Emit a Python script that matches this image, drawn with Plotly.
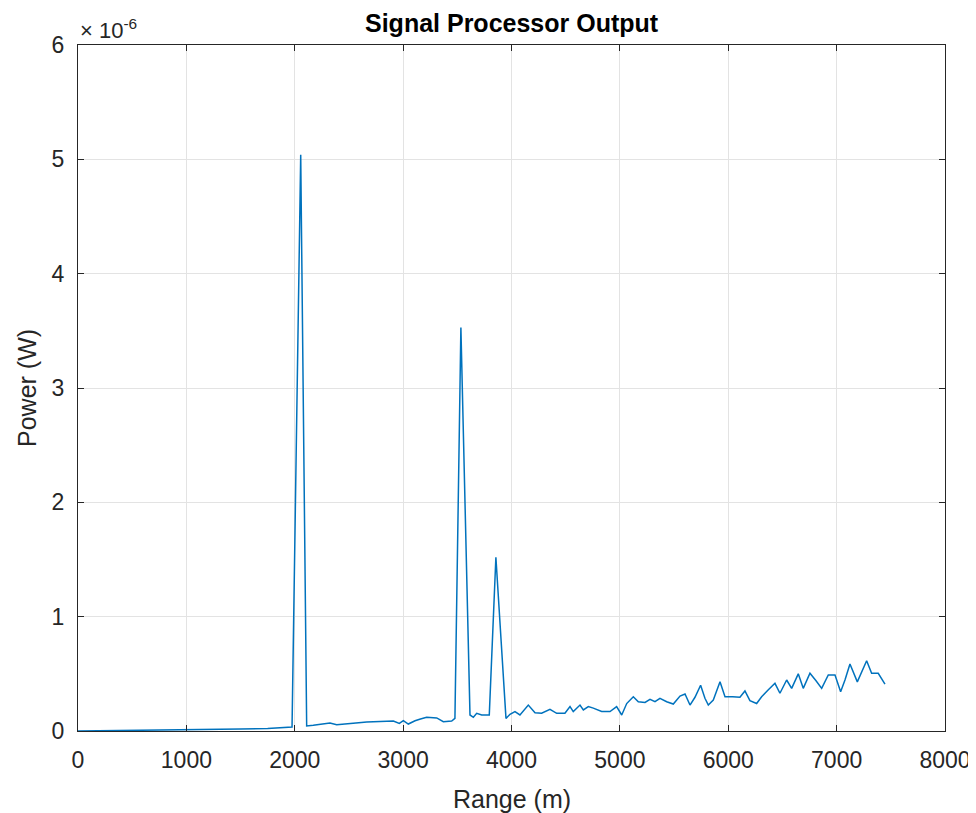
import numpy as np
import plotly.graph_objects as go

# Range samples (m)
range_m = [0, 250, 500, 750, 1000, 1250, 1500, 1750, 1900, 1975, 2055, 2110, 2171, 2250, 2325,
           2387, 2450, 2510, 2590, 2664, 2730, 2787, 2850, 2910, 2965, 3002, 3048, 3110, 3160,
           3217, 3310, 3371, 3448, 3478, 3533, 3617, 3648, 3679, 3725, 3795, 3856, 3949, 3986,
           4032, 4078, 4155, 4217, 4278, 4355, 4417, 4493, 4540, 4570, 4632, 4663, 4709, 4755,
           4832, 4909, 4970, 5017, 5063, 5124, 5170, 5232, 5278, 5324, 5370, 5432, 5493, 5555,
           5601, 5647, 5693, 5745, 5785, 5816, 5862, 5924, 5970, 6040, 6108, 6154, 6200, 6262,
           6308, 6370, 6431, 6477, 6539, 6585, 6646, 6692, 6754, 6810, 6862, 6923, 6985, 7037,
           7077, 7123, 7191, 7277, 7323, 7384, 7446]

# Power in units of 1e-6 W
power_uW = [0.0, 0.002, 0.004, 0.006, 0.01, 0.013, 0.017, 0.022, 0.03, 0.035, 5.04, 0.044, 0.05,
            0.06, 0.07, 0.055, 0.062, 0.067, 0.072, 0.079, 0.082, 0.085, 0.088, 0.087, 0.067,
            0.09, 0.061, 0.09, 0.105, 0.12, 0.114, 0.081, 0.087, 0.11, 3.53, 0.14, 0.12, 0.155,
            0.14, 0.14, 1.52, 0.11, 0.146, 0.17, 0.14, 0.227, 0.16, 0.155, 0.19, 0.155, 0.155,
            0.213, 0.17, 0.227, 0.184, 0.213, 0.2, 0.17, 0.17, 0.213, 0.14, 0.24, 0.3, 0.256,
            0.25, 0.277, 0.256, 0.286, 0.256, 0.236, 0.306, 0.324, 0.227, 0.295, 0.4, 0.286,
            0.227, 0.27, 0.43, 0.3, 0.3, 0.295, 0.35, 0.265, 0.24, 0.3, 0.36, 0.417, 0.33,
            0.446, 0.373, 0.5, 0.373, 0.505, 0.44, 0.373, 0.49, 0.49, 0.344, 0.446, 0.586,
            0.43, 0.615, 0.505, 0.505, 0.41]

x_ticks = [0, 1000, 2000, 3000, 4000, 5000, 6000, 7000, 8000]
y_ticks = [0, 1, 2, 3, 4, 5, 6]
y_tick_labels = ["0", "1", "2", "3", "4", "5", "6"]

power_W = np.array(power_uW) * 1e-6

FONT = "Liberation Sans, Arial, Helvetica, sans-serif"
AX = "#262626"

fig = go.Figure()
fig.add_trace(go.Scatter(x=range_m, y=power_W, mode="lines",
                         line=dict(color="#0072BD", width=1.5), showlegend=False,
                         hoverinfo="skip"))

axis_common = dict(showline=True, linecolor=AX, linewidth=1.3, mirror="ticks",
                   ticks="inside", ticklen=6, tickcolor=AX, tickwidth=1.3,
                   showgrid=True, gridcolor="#e3e3e3", gridwidth=1, zeroline=False,
                   automargin=False,
                   tickfont=dict(family=FONT, size=23, color=AX))

# page body has an 8px margin, so the figure is sized to the remaining window
fig.update_layout(
    width=968, height=805,
    margin=dict(l=70, r=31, t=37, b=82),
    paper_bgcolor="white", plot_bgcolor="white",
    xaxis=dict(range=[0, 8000], tickvals=x_ticks, ticklabelstandoff=8, **axis_common),
    yaxis=dict(range=[0, 6e-6], tickvals=[v * 1e-6 for v in y_ticks], ticktext=y_tick_labels,
               ticklabelstandoff=8, **axis_common),
)

PH = 686.0
PW = 867.0

# Title
fig.add_annotation(text="<b>Signal Processor Output</b>", x=0.5, y=1 + 22 / PH,
                   xref="paper", yref="paper",
                   showarrow=False, xanchor="center", yanchor="middle",
                   font=dict(family=FONT, size=25, color="black"))

# Axis titles
fig.add_annotation(text="Range (m)", x=0.5, y=-68 / PH, xref="paper", yref="paper",
                   showarrow=False, xanchor="center", yanchor="middle",
                   font=dict(family=FONT, size=25, color=AX))
fig.add_annotation(text="Power (W)", x=-51 / PW, y=0.5, xref="paper", yref="paper",
                   showarrow=False, xanchor="center", yanchor="middle", textangle=-90,
                   font=dict(family=FONT, size=25, color=AX))

# Exponent multiplier
fig.add_annotation(text="× 10<sup>-6</sup>", x=0, y=1, xref="paper", yref="paper",
                   xanchor="left", yanchor="bottom", showarrow=False, yshift=0,
                   font=dict(family=FONT, size=22, color=AX))

fig.write_html("out.html")
